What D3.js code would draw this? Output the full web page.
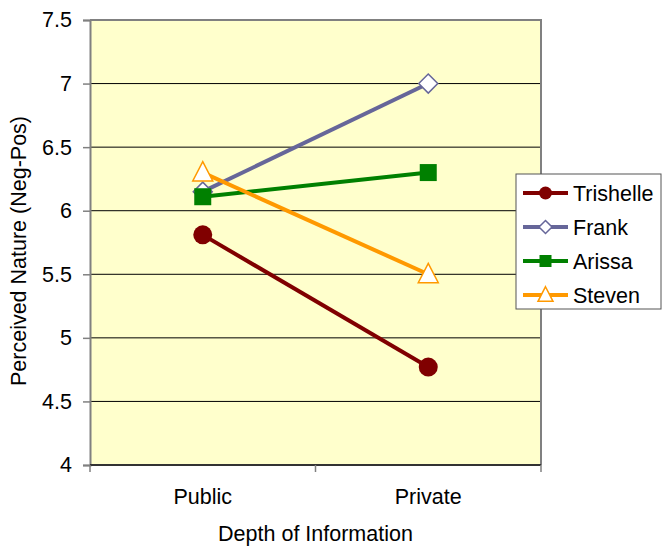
<!DOCTYPE html>
<html>
<head>
<meta charset="utf-8">
<script src="https://cdn.jsdelivr.net/npm/d3@7"></script>
<style>
  body { margin: 0; background: #fff; }
  text { font-family: "Liberation Sans", Arial, sans-serif; }
</style>
</head>
<body>
<svg width="662" height="550"></svg>
<script>
// categories and series
var categories = ["Public", "Private"];
var names = ["Trishelle", "Frank", "Arissa", "Steven"];
var trishelle = [5.81, 4.77];
var frank = [6.15, 7.0];
var arissa = [6.11, 6.30];
var steven = [6.30, 5.50];
var yTicks = [4, 4.5, 5, 5.5, 6, 6.5, 7, 7.5];

var colors = ["#800000", "#666699", "#008000", "#FF9900"];
var shapes = ["circle", "diamond", "square", "triangle"];
var series = [trishelle, frank, arissa, steven].map(function(v, i) {
    return { name: names[i], values: v, color: colors[i], shape: shapes[i] };
});

var svg = d3.select("svg");
var pLeft = 90, pRight = 541, pTop = 20, pBottom = 465;
var fs = 21.5;

var x = d3.scaleBand().domain(categories).range([pLeft, pRight]);
var y = d3.scaleLinear().domain([4, 7.5]).range([pBottom, pTop]);
var cx = function(c) { return x(c) + x.bandwidth() / 2; };

// plot background
svg.append("rect")
    .attr("x", pLeft).attr("y", pTop)
    .attr("width", pRight - pLeft).attr("height", pBottom - pTop)
    .attr("fill", "#FFFFCC");

// gridlines
svg.append("g").selectAll("line")
    .data(yTicks.filter(function(d) { return d > 4 && d < 7.5; }))
    .enter().append("line")
    .attr("x1", pLeft).attr("x2", pRight)
    .attr("y1", y).attr("y2", y)
    .attr("stroke", "#000").attr("stroke-width", 1);

// border top/right
svg.append("path")
    .attr("d", "M" + pLeft + "," + pTop + "H" + pRight + "V" + pBottom)
    .attr("fill", "none").attr("stroke", "#808080").attr("stroke-width", 2);

// y axis
var yAxis = d3.axisLeft(y).tickValues(yTicks).tickSize(7).tickPadding(11)
    .tickFormat(function(d) { return d; });
var gy = svg.append("g").attr("transform", "translate(" + pLeft + ",0)").call(yAxis);
gy.select(".domain").attr("stroke", "#808080").attr("stroke-width", 2);
gy.selectAll(".tick line").attr("stroke", "#808080").attr("stroke-width", 1.5);
gy.selectAll(".tick text").attr("font-size", fs).attr("fill", "#000")
    .style("font-family", "'Liberation Sans', Arial, sans-serif");

// x axis (ticks between categories)
var bounds = categories.map(function(c) { return x(c); }).concat([pRight]);
svg.append("line")
    .attr("x1", pLeft).attr("x2", pRight).attr("y1", pBottom).attr("y2", pBottom)
    .attr("stroke", "#333").attr("stroke-width", 2);
svg.append("g").selectAll("line").data(bounds).enter().append("line")
    .attr("x1", function(d) { return d; }).attr("x2", function(d) { return d; })
    .attr("y1", pBottom).attr("y2", pBottom + 7)
    .attr("stroke", "#808080").attr("stroke-width", 1.5);
svg.append("g").selectAll("text").data(categories).enter().append("text")
    .attr("x", cx).attr("y", 504)
    .attr("text-anchor", "middle").attr("font-size", fs)
    .text(function(d) { return d; });

// axis titles
svg.append("text")
    .attr("x", (pLeft + pRight) / 2).attr("y", 541)
    .attr("text-anchor", "middle").attr("font-size", fs)
    .text("Depth of Information");
svg.append("text")
    .attr("transform", "translate(26,251) rotate(-90)")
    .attr("text-anchor", "middle").attr("font-size", fs)
    .text("Perceived Nature (Neg-Pos)");

function marker(g, shape, color, s) {
    if (shape == "circle") {
        g.append("circle").attr("r", s / 2).attr("fill", color);
    } else if (shape == "square") {
        g.append("rect").attr("x", -s / 2).attr("y", -s / 2)
            .attr("width", s).attr("height", s).attr("fill", color);
    } else if (shape == "diamond") {
        var h = s / 2;
        g.append("path").attr("d", "M0," + (-h) + "L" + h + ",0L0," + h + "L" + (-h) + ",0Z")
            .attr("fill", "#fff").attr("stroke", color).attr("stroke-width", 1.5);
    } else {
        var w = s / 2;
        g.append("path").attr("d", "M0," + (-s * 0.55) + "L" + w + "," + (s * 0.42) + "L" + (-w) + "," + (s * 0.42) + "Z")
            .attr("fill", "#fff").attr("stroke", color).attr("stroke-width", 1.5);
    }
}

var sizes = { circle: 19, square: 17, diamond: 19, triangle: 20 };

var line = d3.line()
    .x(function(d, i) { return cx(categories[i]); })
    .y(function(d) { return y(d); });

series.forEach(function(s) {
    var g = svg.append("g");
    g.append("path").datum(s.values)
        .attr("d", line)
        .attr("fill", "none").attr("stroke", s.color).attr("stroke-width", 4);
    s.values.forEach(function(v, i) {
        var m = g.append("g").attr("transform", "translate(" + cx(categories[i]) + "," + y(v) + ")");
        marker(m, s.shape, s.color, sizes[s.shape]);
    });
});

// legend
var legend = svg.append("g").attr("transform", "translate(516,174)");
legend.append("rect")
    .attr("x", 0).attr("y", 0).attr("width", 145).attr("height", 135)
    .attr("fill", "#fff").attr("stroke", "#555").attr("stroke-width", 1);
var legSizes = { circle: 13, square: 12, diamond: 13, triangle: 15 };
series.forEach(function(s, i) {
    var row = legend.append("g").attr("transform", "translate(0," + (19 + i * 34) + ")");
    row.append("line").attr("x1", 7).attr("x2", 52).attr("y1", 0).attr("y2", 0)
        .attr("stroke", s.color).attr("stroke-width", 4);
    var m = row.append("g").attr("transform", "translate(29.5,0)");
    marker(m, s.shape, s.color, legSizes[s.shape]);
    row.append("text").attr("x", 57).attr("y", 7.5).attr("font-size", fs).text(s.name);
});
</script>
</body>
</html>
